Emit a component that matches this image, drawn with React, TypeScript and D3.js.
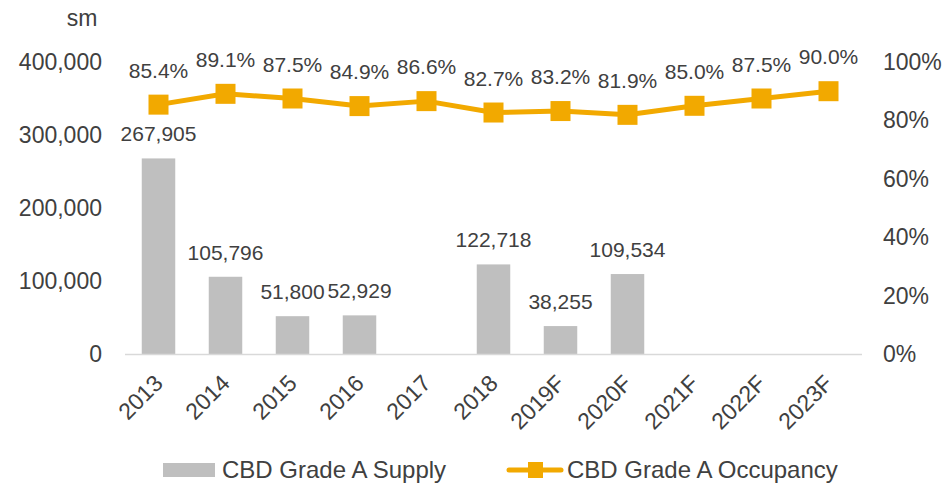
import React, { useEffect, useRef } from "react";
import * as d3 from "d3";

const width = 951;
const height = 483;
const margin = { top: 62, right: 89, bottom: 129, left: 125 };
const barColor = "#bfbfbf";
const lineColor = "#f2a900";
const textColor = "#404040";
const font = "'Liberation Sans', Arial, sans-serif";

const years = ["2013", "2014", "2015", "2016", "2017", "2018", "2019F", "2020F", "2021F", "2022F", "2023F"];
const supply = [267905, 105796, 51800, 52929, null, 122718, 38255, 109534, null, null, null];
const occupancy = [85.4, 89.1, 87.5, 84.9, 86.6, 82.7, 83.2, 81.9, 85.0, 87.5, 90.0];
const leftTicks = [0, 100000, 200000, 300000, 400000];
const rightTicks = [0, 20, 40, 60, 80, 100];

export default function App() {
  const ref = useRef<SVGSVGElement>(null);

  useEffect(() => {
    const svg = d3.select(ref.current);
    svg.selectAll("*").remove();

    const x = d3
      .scaleBand()
      .domain(years)
      .range([margin.left, width - margin.right])
      .paddingInner(0.5)
      .paddingOuter(0.25);
    const y = d3.scaleLinear().domain([0, 400000]).range([height - margin.bottom, margin.top]);
    const y2 = d3.scaleLinear().domain([0, 100]).range([height - margin.bottom, margin.top]);
    const fmt = d3.format(",");

    // left axis labels
    svg
      .append("g")
      .attr("class", "axis")
      .selectAll("text")
      .data(leftTicks)
      .join("text")
      .attr("x", 102)
      .attr("y", d => y(d))
      .attr("dy", "0.35em")
      .attr("text-anchor", "end")
      .text(d => fmt(d));

    svg.append("g").attr("class", "axis").append("text")
      .attr("x", 82).attr("y", 18).attr("dy", "0.35em").attr("text-anchor", "middle").text("sm");

    // right axis labels
    svg
      .append("g")
      .attr("class", "axis")
      .selectAll("text")
      .data(rightTicks)
      .join("text")
      .attr("x", 883)
      .attr("y", d => y2(d))
      .attr("dy", "0.35em")
      .text(d => d + "%");

    // bars
    const barData = years.map((yr, i) => ({ yr, v: supply[i] })).filter(d => d.v != null) as { yr: string; v: number }[];
    svg
      .append("g")
      .selectAll("rect")
      .data(barData)
      .join("rect")
      .attr("x", d => x(d.yr)!)
      .attr("width", x.bandwidth())
      .attr("y", d => y(d.v))
      .attr("height", d => y(0) - y(d.v))
      .attr("fill", barColor);

    svg
      .append("g")
      .attr("class", "lbl")
      .selectAll("text")
      .data(barData)
      .join("text")
      .attr("x", d => x(d.yr)! + x.bandwidth() / 2)
      .attr("y", d => y(d.v) - 17)
      .attr("text-anchor", "middle")
      .text(d => fmt(d.v));

    // baseline
    svg
      .append("line")
      .attr("x1", margin.left)
      .attr("x2", width - margin.right)
      .attr("y1", y(0) + 0.5)
      .attr("y2", y(0) + 0.5)
      .attr("stroke", "#d9d9d9")
      .attr("stroke-width", 1.5);

    // x labels
    svg
      .append("g")
      .attr("class", "axis")
      .selectAll("text")
      .data(years)
      .join("text")
      .attr("transform", d => `translate(${x(d)! + x.bandwidth() / 2},${y(0) + 25}) rotate(-45)`)
      .attr("text-anchor", "end")
      .attr("dy", "0.35em")
      .text(d => d);

    // occupancy line
    const cx = (i: number) => x(years[i])! + x.bandwidth() / 2;
    const line = d3
      .line<number>()
      .x((d, i) => cx(i))
      .y(d => y2(d));
    svg
      .append("path")
      .attr("d", line(occupancy))
      .attr("fill", "none")
      .attr("stroke", lineColor)
      .attr("stroke-width", 5)
      .attr("stroke-linejoin", "round");

    const ms = 20;
    svg
      .append("g")
      .selectAll("rect")
      .data(occupancy)
      .join("rect")
      .attr("x", (d, i) => cx(i) - ms / 2)
      .attr("y", d => y2(d) - ms / 2)
      .attr("width", ms)
      .attr("height", ms)
      .attr("fill", lineColor);

    svg
      .append("g")
      .attr("class", "lbl")
      .selectAll("text")
      .data(occupancy)
      .join("text")
      .attr("x", (d, i) => cx(i))
      .attr("y", d => y2(d) - 27)
      .attr("text-anchor", "middle")
      .text(d => d.toFixed(1) + "%");

    // legend
    const lg = svg.append("g").attr("class", "legend");
    lg.append("rect").attr("x", 163).attr("y", 463).attr("width", 52).attr("height", 14).attr("fill", barColor);
    lg.append("text").attr("x", 222).attr("y", 470).attr("dy", "0.35em").text("CBD Grade A Supply");
    lg.append("line")
      .attr("x1", 509)
      .attr("x2", 561)
      .attr("y1", 470)
      .attr("y2", 470)
      .attr("stroke", lineColor)
      .attr("stroke-width", 5)
      .attr("stroke-linecap", "round");
    lg.append("rect").attr("x", 528).attr("y", 462).attr("width", 15).attr("height", 16).attr("fill", lineColor);
    lg.append("text").attr("x", 567).attr("y", 470).attr("dy", "0.35em").text("CBD Grade A Occupancy");

    svg.selectAll("text").attr("fill", textColor).attr("font-family", font);
    svg.selectAll(".axis text").attr("font-size", 23);
    svg.selectAll(".lbl text").attr("font-size", 21);
    svg.selectAll(".legend text").attr("font-size", 24);
  }, []);

  return (
    <svg
      ref={ref}
      width={width}
      height={height}
      style={{ position: "absolute", left: 0, top: 0, background: "#fff" }}
    />
  );
}
